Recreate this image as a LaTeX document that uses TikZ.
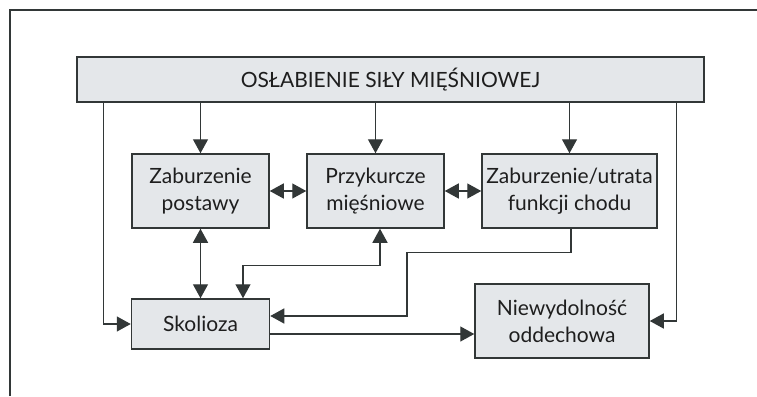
\documentclass[tikz,border=0pt]{standalone}
\usepackage{fontspec}
\setmainfont{Lato}
\usetikzlibrary{arrows.meta,calc}
\definecolor{BoxGray}{RGB}{228,231,234}
\definecolor{LineGray}{RGB}{50,55,55}
\definecolor{TextGray}{RGB}{30,30,30}

\begin{document}
\begin{tikzpicture}[x=1pt,y=-1pt, every node/.style={font=\fontsize{21}{27}\selectfont,text=TextGray}, box/.style={draw=LineGray,fill=BoxGray,line width=1.5pt,inner sep=0pt,minimum width=137pt,minimum height=74pt,align=center}, link/.style={draw=LineGray,line width=1.4pt}, tip/.style={-{Triangle[length=14pt,width=15pt]}}, twotip/.style={{Triangle[length=14pt,width=15pt]}-{Triangle[length=14pt,width=15pt]}}]
\useasboundingbox (0,0) rectangle (757,396);
\draw[LineGray,line width=1.1pt] (10,396) -- (10,10) -- (757,10);
\node[box,minimum width=627pt,minimum height=45pt] (oslab) at (390.5,79.5) {OSŁABIENIE SIŁY MIĘŚNIOWEJ};
\node[box] (postawa) at (200.5,191) {Zaburzenie\\postawy};
\node[box] (przyk) at (375.5,191) {Przykurcze\\mięśniowe};
\node[box,minimum width=175pt] (chod) at (569.5,191) {Zaburzenie/utrata\\funkcji chodu};
\node[box,minimum width=138pt,minimum height=50pt] (skol) at (200.5,324) {Skolioza};
\node[box,minimum width=174pt] (niew) at (562,321) {Niewydolność\\oddechowa};
\foreach \x in {postawa,przyk,chod}{\draw[link,tip] (oslab.south -| \x.north) -- (\x.north);}
\draw[link,tip] ([xshift=27pt]oslab.south west) |- (skol.west);
\draw[link,tip] ([xshift=-28pt]oslab.south east) |- (niew.east);
\draw[link,twotip] (postawa) -- (przyk);
\draw[link,twotip] (przyk) -- (chod);
\draw[link,twotip] (postawa) -- (skol);
\draw[link,twotip] ([xshift=4.5pt]przyk.south) -- ++(0,37) -| ([xshift=42.5pt]skol.north);
\coordinate (kink) at (407,316);
\draw[link,tip] ([xshift=1.5pt]chod.south) -- ++(0,24) -| (kink) -- ([yshift=8pt]skol.east);
\draw[link,tip] ([yshift=-10pt]skol.east) -- ([yshift=-10pt]skol.east -| niew.west);
\end{tikzpicture}
\end{document}
